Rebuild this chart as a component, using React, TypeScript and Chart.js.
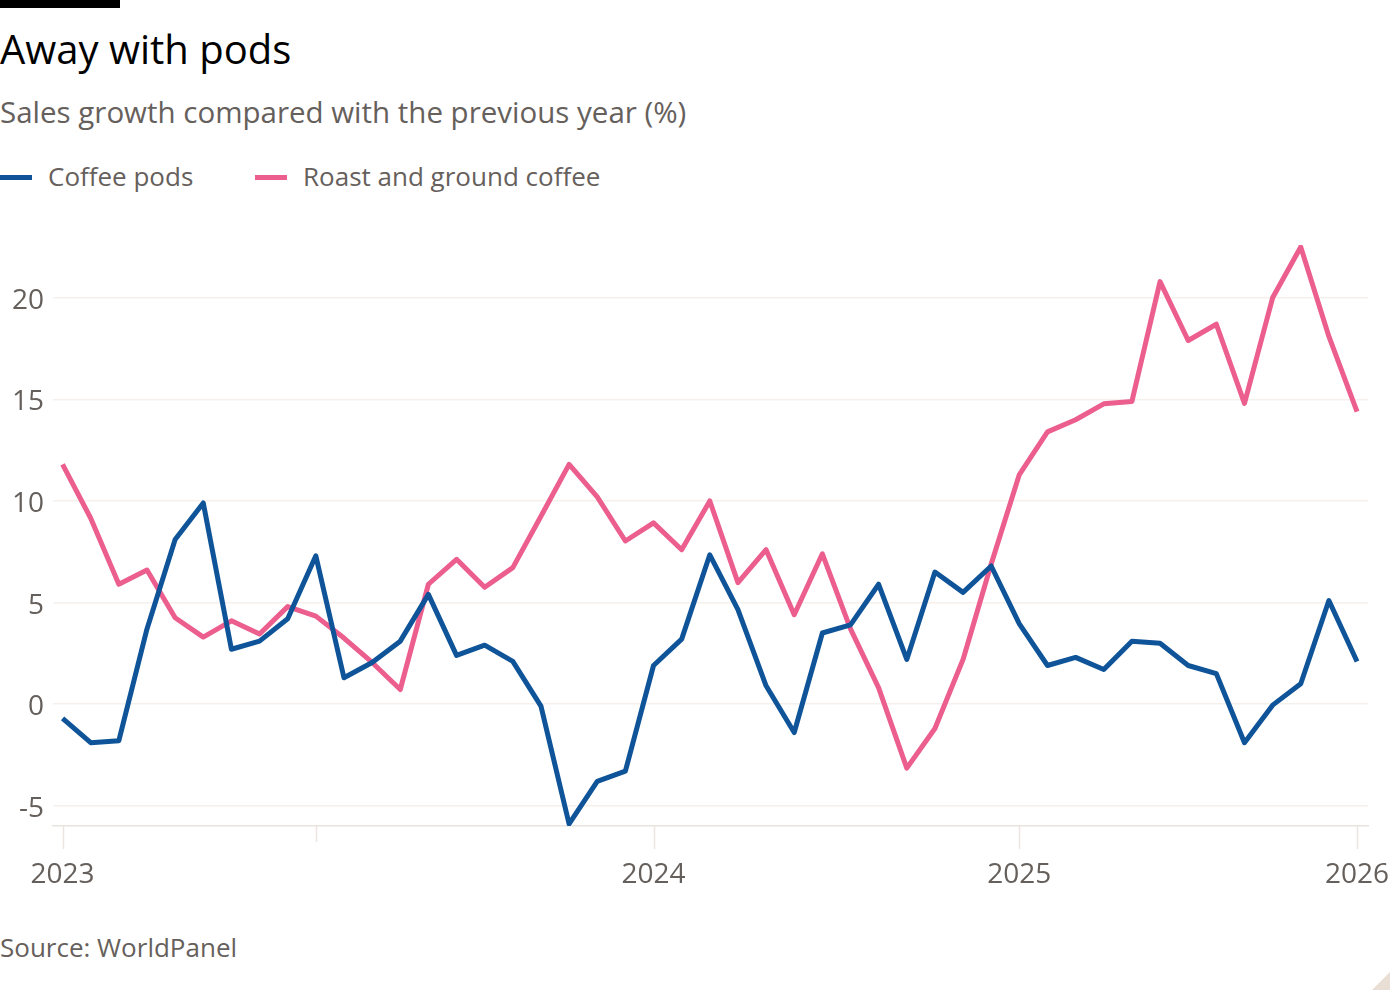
import React, { useEffect, useRef } from "react";
import { Chart, registerables } from "chart.js";

Chart.register(...registerables);

const periods: number[] = Array.from({ length: 47 }, (_, i) => i);

const coffeePods: number[] = [
  -0.7, -1.9, -1.8, 3.7, 8.1, 9.9, 2.7, 3.1, 4.2, 7.3,
  1.3, 2.05, 3.1, 5.4, 2.4, 2.9, 2.1, -0.1, -5.9, -3.8,
  -3.3, 1.9, 3.2, 7.35, 4.65, 0.9, -1.4, 3.5, 3.9, 5.9,
  2.2, 6.5, 5.5, 6.8, 3.95, 1.9, 2.3, 1.7, 3.1, 3.0,
  1.9, 1.5, -1.9, -0.05, 1.0, 5.1, 2.1,
];

const roastGround: number[] = [
  11.8, 9.15, 5.9, 6.6, 4.25, 3.3, 4.1, 3.45, 4.8, 4.33,
  3.25, 2.05, 0.72, 5.9, 7.13, 5.75, 6.72, 9.25, 11.8, 10.2,
  8.03, 8.92, 7.6, 10.0, 5.98, 7.6, 4.4, 7.4, 3.7, 0.8,
  -3.15, -1.2, 2.2, 6.9, 11.3, 13.4, 14.0, 14.78, 14.9, 20.8,
  17.9, 18.7, 14.8, 20.0, 22.5, 18.1, 14.4,
];

const xTickValues: number[] = [0, 9, 21, 34, 46];
const xTickLabels: string[] = ["2023", "", "2024", "2025", "2026"];
const yTickValues: number[] = [-5, 0, 5, 10, 15, 20];

const BLUE = "#0f5499";
const PINK = "#eb5e8d";
const GREY = "#66605c";
const FONT = "'Open Sans', sans-serif";

const xTicksPlugin = {
  id: "xTicksPlugin",
  afterDraw(chart: any) {
    const ctx = chart.ctx;
    const xs = chart.scales.x;
    const bottom = chart.chartArea.bottom;
    ctx.save();
    ctx.strokeStyle = "#ebe6e1";
    ctx.lineWidth = 1.5;
    xTickValues.forEach((v, i) => {
      const px = Math.round(xs.getPixelForValue(v)) + 0.5;
      const len = xTickLabels[i] === "" ? 16 : 23;
      ctx.beginPath();
      ctx.moveTo(px, bottom);
      ctx.lineTo(px, bottom + len);
      ctx.stroke();
    });
    ctx.restore();
  },
};

function LineChart() {
  const ref = useRef<HTMLCanvasElement | null>(null);
  useEffect(() => {
    if (!ref.current) return;
    const chart = new Chart(ref.current, {
      type: "line",
      data: {
        labels: periods,
        datasets: [
          {
            label: "Coffee pods",
            data: periods.map((p, i) => ({ x: p, y: coffeePods[i] })),
            borderColor: BLUE,
            borderWidth: 5,
            pointRadius: 0,
            tension: 0,
            borderJoinStyle: "round",
            borderCapStyle: "butt",
          },
          {
            label: "Roast and ground coffee",
            data: periods.map((p, i) => ({ x: p, y: roastGround[i] })),
            borderColor: PINK,
            borderWidth: 5,
            pointRadius: 0,
            tension: 0,
            borderJoinStyle: "round",
            borderCapStyle: "butt",
          },
        ],
      },
      options: {
        animation: false,
        responsive: false,
        maintainAspectRatio: false,
        layout: { padding: { top: 45, right: 32, left: 0, bottom: 0 } },
        plugins: {
          legend: { display: false },
          tooltip: { enabled: false },
        },
        scales: {
          x: {
            type: "linear",
            min: -0.34,
            max: 46.39,
            afterBuildTicks: (s: any) => {
              s.ticks = xTickValues.map((v) => ({ value: v }));
            },
            afterFit: (s: any) => {
              s.height = 74;
              s.paddingLeft = 0;
              s.paddingRight = 0;
            },
            grid: { display: false, drawTicks: false },
            border: { display: true, color: "#e8e3de", width: 1.5 },
            ticks: {
              autoSkip: false,
              maxRotation: 0,
              padding: 32,
              color: GREY,
              font: { family: FONT, size: 28 },
              callback: (v: any) => {
                const i = xTickValues.indexOf(Number(v));
                return i >= 0 ? xTickLabels[i] : "";
              },
            },
          },
          y: {
            type: "linear",
            min: -6,
            max: 22.6,
            afterBuildTicks: (s: any) => {
              s.ticks = yTickValues.map((v) => ({ value: v }));
            },
            afterFit: (s: any) => {
              s.width = 53;
              s.paddingTop = 0;
              s.paddingBottom = 0;
            },
            grid: { color: "#f5f0ec", lineWidth: 1.5, drawTicks: false },
            border: { display: false },
            ticks: {
              padding: 9,
              labelOffset: 3,
              color: GREY,
              font: { family: FONT, size: 28 },
              callback: (v: any) => String(v),
            },
          },
        },
      },
      plugins: [xTicksPlugin],
    } as any);
    return () => chart.destroy();
  }, []);
  return (
    <canvas
      ref={ref}
      width={1400}
      height={700}
      style={{ position: "absolute", left: 0, top: 200, width: 1400, height: 700 }}
    />
  );
}

export default function App() {
  const text = (extra: React.CSSProperties): React.CSSProperties => ({
    position: "absolute",
    left: 0,
    margin: 0,
    lineHeight: 1,
    whiteSpace: "nowrap",
    fontFamily: FONT,
    color: GREY,
    ...extra,
  });
  return (
    <div
      style={{
        position: "absolute",
        left: 0,
        top: 0,
        width: 1400,
        height: 1000,
        background: "#ffffff",
        overflow: "hidden",
      }}
    >
      <div style={{ position: "absolute", left: 0, top: 0, width: 120, height: 8, background: "#000" }} />
      <div style={text({ top: 29, fontSize: 40, color: "#000" })}>Away with pods</div>
      <div style={text({ top: 97, fontSize: 29.5 })}>
        Sales growth compared with the previous year (%)
      </div>
      <div style={{ position: "absolute", left: 0, top: 175, width: 32, height: 5, background: BLUE }} />
      <div style={text({ left: 48, top: 163, fontSize: 26 })}>Coffee pods</div>
      <div style={{ position: "absolute", left: 255, top: 175, width: 32, height: 5, background: PINK }} />
      <div style={text({ left: 303, top: 163, fontSize: 26 })}>Roast and ground coffee</div>
      <LineChart />
      <div style={text({ top: 934, fontSize: 26 })}>Source: WorldPanel</div>
      <div
        style={{
          position: "absolute",
          left: 1372,
          top: 972,
          width: 0,
          height: 0,
          borderLeft: "18px solid transparent",
          borderBottom: "18px solid #e9ded3",
        }}
      />
    </div>
  );
}
